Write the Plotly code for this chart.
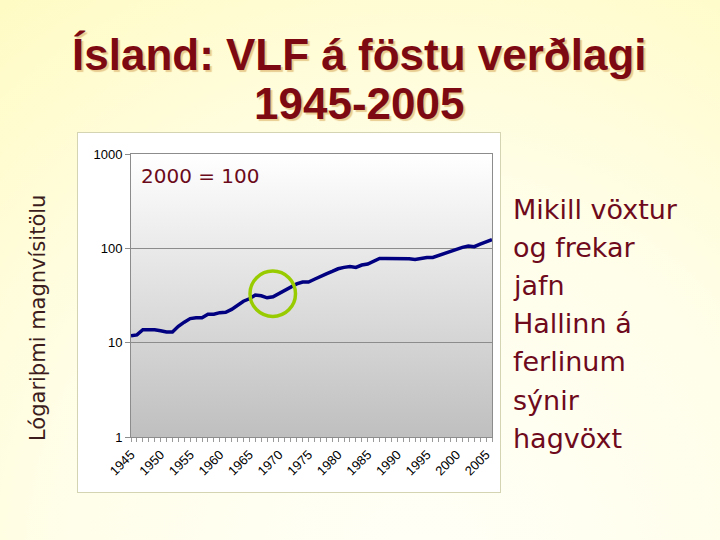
import base64
import plotly.graph_objects as go

# ---- data ----
years = list(range(1945, 2007))
values = [11.8, 12.1, 13.7, 13.8, 13.7, 13.4, 13.0, 13.0, 14.9, 16.5,
          18.0, 18.4, 18.4, 20.0, 20.0, 20.8, 21.0, 22.5, 24.7, 27.5,
          29.2, 32.0, 31.4, 29.9, 30.6, 33.0, 36.0, 39.3, 42.0, 44.0,
          44.0, 47.0, 50.8, 53.7, 56.9, 60.7, 62.8, 64.3, 62.8, 66.5,
          68.2, 72.7, 78.2, 78.2, 78.2, 78.2, 78.2, 77.6, 76.3, 78.2,
          80.1, 80.1, 84.0, 88.9, 94.3, 99.0, 102.4, 105.9, 104.1, 111.0,
          117.6, 123.6]
x_tick_labels = [str(y) if y % 5 == 0 and y <= 2005 else "" for y in years]
y_tick_vals = [1, 10, 100, 1000]
y_tick_text = ["1", "10", "100", "1000"]

title_lines = ["Ísland: VLF á föstu verðlagi", "1945-2005"]
side_lines = ["Mikill vöxtur", "og frekar", "jafn", "Hallinn á", "ferlinum", "sýnir", "hagvöxt"]
y_label = "Lógariþmi magnvísitölu"
base_note = "2000 = 100"

# ---- layout geometry ----
W, H = 720, 540
ML, MR, MT, MB = 131, 228, 154, 103
PW, PH = W - ML - MR, H - MT - MB


def px(x):
    return (x - ML) / PW


def py(y):
    return (H - MB - y) / PH


svg = f'''<svg xmlns="http://www.w3.org/2000/svg" width="{W}" height="{H}" viewBox="0 0 {W} {H}" preserveAspectRatio="none">
<defs>
<radialGradient id="bg" cx="420" cy="560" r="700" gradientUnits="userSpaceOnUse">
<stop offset="0" stop-color="#fffff7"/><stop offset="0.5" stop-color="#fffeea"/><stop offset="1" stop-color="#fffbc4"/></radialGradient>
<linearGradient id="pa" x1="0" y1="0" x2="0" y2="1">
<stop offset="0" stop-color="#ffffff"/><stop offset="1" stop-color="#bfbfbf"/></linearGradient>
</defs>
<rect width="{W}" height="{H}" fill="url(#bg)"/>
<rect x="77.5" y="132.5" width="423" height="360" fill="#ffffff" stroke="#d4d4b2"/>
<rect x="{ML}" y="{MT}" width="{PW}" height="{PH}" fill="url(#pa)"/>
</svg>'''
src = "data:image/svg+xml;base64," + base64.b64encode(svg.encode("utf-8")).decode("ascii")

fig = go.Figure()
fig.add_trace(go.Scatter(
    x=years, y=values, mode="lines",
    line=dict(color="#000080", width=3.5),
    hoverinfo="skip", showlegend=False,
))

annotations = []
# title with shadow
for i, t in enumerate(title_lines):
    annotations.append(dict(
        text=t, xref="paper", yref="paper", x=px(359), y=py(55 + i * 48),
        xanchor="center", yanchor="middle", showarrow=False,
        font=dict(family="Liberation Sans, Arial, sans-serif", size=44, color="#7d0a12",
                  weight="bold", shadow="2px 2px 1px #e8cc90"),
    ))
# side text
for i, t in enumerate(side_lines):
    annotations.append(dict(
        text=t, xref="paper", yref="paper", x=px(511), y=py(209 + i * 38.2),
        xanchor="left", yanchor="middle", showarrow=False,
        font=dict(family="DejaVu Sans, Verdana, sans-serif", size=27, color="#6e0a1c"),
    ))
# y label
annotations.append(dict(
    text=y_label, xref="paper", yref="paper", x=px(38), y=py(318),
    xanchor="center", yanchor="middle", textangle=-90, showarrow=False,
    font=dict(family="DejaVu Sans, Verdana, sans-serif", size=21, color="#3c1c1c"),
))
# base note
annotations.append(dict(
    text=base_note, xref="paper", yref="paper", x=px(139), y=py(176),
    xanchor="left", yanchor="middle", showarrow=False,
    font=dict(family="DejaVu Sans, Verdana, sans-serif", size=20, color="#6b0a1a"),
))

fig.update_layout(
    width=W, height=H,
    margin=dict(l=ML, r=MR, t=MT, b=MB, pad=0),
    paper_bgcolor="#fffde0",
    plot_bgcolor="rgba(0,0,0,0)",
    showlegend=False,
    images=[dict(source=src, xref="paper", yref="paper",
                 x=-ML / PW, y=1 + MT / PH, sizex=W / PW, sizey=H / PH,
                 xanchor="left", yanchor="top", sizing="stretch", layer="below")],
    shapes=[dict(type="circle", xref="paper", yref="paper",
                 x0=px(250), x1=px(295.5), y0=py(316.5), y1=py(271),
                 line=dict(color="#99cc00", width=3.5), layer="above")],
    annotations=annotations,
    xaxis=dict(
        type="category", tickmode="array", tickvals=years, ticktext=x_tick_labels,
        tickangle=-45, tickfont=dict(family="Liberation Sans, Arial, sans-serif", size=13, color="#000"),
        ticks="outside", ticklen=4, tickcolor="#9a9a9a",
        showline=True, linecolor="#8c8c8c", mirror=True, showgrid=False, zeroline=False,
    ),
    yaxis=dict(
        type="log", range=[0, 3], tickmode="array", tickvals=y_tick_vals, ticktext=y_tick_text,
        tickfont=dict(family="Liberation Sans, Arial, sans-serif", size=13, color="#000"),
        ticks="outside", ticklen=5, tickcolor="#8c8c8c",
        showline=True, linecolor="#8c8c8c", mirror=True,
        showgrid=True, gridcolor="#8c8c8c", gridwidth=1, zeroline=False,
    ),
)

fig.write_html("out.html", config={"displayModeBar": False},
               post_script="document.body.style.margin='0';document.body.style.padding='0';")
